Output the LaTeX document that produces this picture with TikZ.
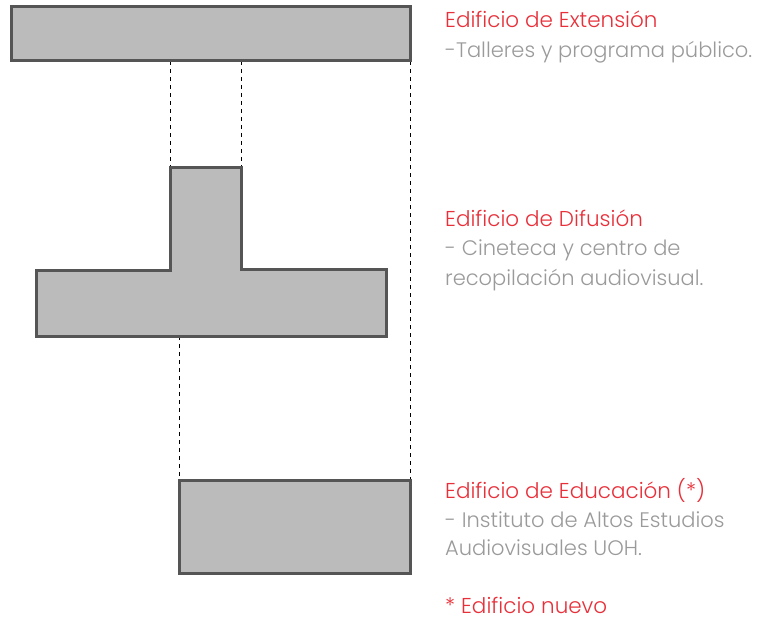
\documentclass[tikz,border=0pt]{standalone}
\usepackage{fontspec}
\setmainfont{Poppins}[UprightFont=* Light]
\usepackage{tikz}
\definecolor{edgegray}{HTML}{555555}
\definecolor{fillgray}{HTML}{BBBBBB}
\definecolor{titlered}{HTML}{E8303A}
\definecolor{textgray}{HTML}{9A9A9A}
\tikzstyle{building}=[draw=edgegray,fill=fillgray,line width=3pt,line join=miter]
\tikzstyle{guide}=[draw=black,dashed,line width=0.7pt,dash pattern=on 4pt off 4pt]
\tikzstyle{title}=[anchor=base west,inner sep=0,text=titlered,font=\fontsize{21.5}{26}\selectfont]
\tikzstyle{descr}=[anchor=base west,inner sep=0,text=textgray,font=\fontsize{21}{26}\selectfont]

\begin{document}
\begin{tikzpicture}[x=1pt,y=-1pt]
        \useasboundingbox (0,0) rectangle (762,620);

        % buildings
        \coordinate (ext-nw) at (11,7);
        \coordinate (ext-se) at (410,61);
        \coordinate (dif-a) at (170,168);
        \coordinate (dif-b) at (241,168);
        \coordinate (dif-c) at (179,336);
        \coordinate (edu-nw) at (179,480);
        \coordinate (edu-ne) at (410,480);
        \coordinate (edu-se) at (410,573);

        \draw[guide] (170,61) -- (dif-a);
        \draw[guide] (241,61) -- (dif-b);
        \draw[guide] (ext-se) -- (edu-ne);
        \draw[guide] (dif-c) -- (edu-nw);

        \path[building] (ext-nw) rectangle (ext-se);
        \path[building] (dif-a) -- (dif-b) -- (241,269) -- (386,269) -- (386,336)
            -- (36,336) -- (36,270) -- (170,270) -- cycle;
        \path[building] (edu-nw) rectangle (edu-se);

        % labels
        \node[title] (ext-title) at (445,28) {Edificio de Extensión};
        \node[descr] (ext-text) at (445,58) {-Talleres y programa público.};

        \node[title] (dif-title) at (445,226) {Edificio de Difusión};
        \node[descr] (dif-text1) at (445,255) {- Cineteca y centro de};
        \node[descr] (dif-text2) at (445,285) {recopilación audiovisual.};

        \node[title] (edu-title) at (445,498) {Edificio de Educación (*)};
        \node[descr] (edu-text1) at (445,527) {- Instituto de Altos Estudios};
        \node[descr] (edu-text2) at (445,555) {Audiovisuales UOH.};

        \node[title] (note) at (445,613) {* Edificio nuevo};
    \end{tikzpicture}
\end{document}
